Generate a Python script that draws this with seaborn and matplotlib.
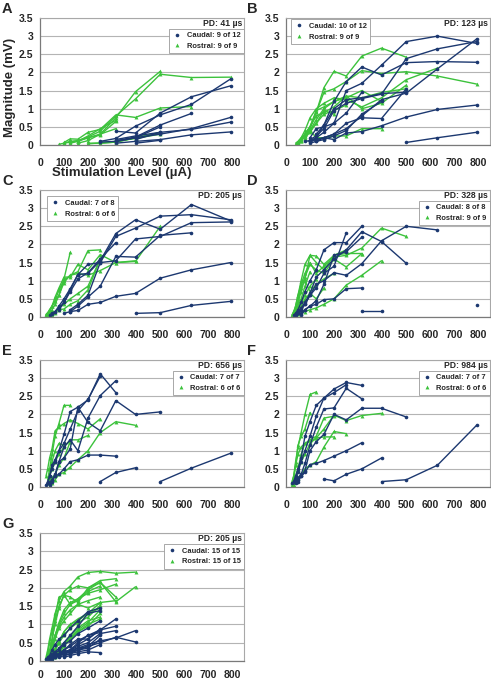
import matplotlib
matplotlib.use("Agg")
import matplotlib.pyplot as plt
from matplotlib.lines import Line2D
import seaborn as sns
import pandas as pd

# ---------------- data ----------------
STIM = [25, 32, 40, 50, 63, 79, 100, 126, 158, 200, 251, 316, 398, 501, 631, 794]
X_TICKS = [0, 100, 200, 300, 400, 500, 600, 700, 800]
Y_TICKS = [0, 0.5, 1, 1.5, 2, 2.5, 3, 3.5]

PANELS = ["A", "B", "C", "D", "E", "F", "G"]
PD_TEXT = {"A": "PD: 41 µs", "B": "PD: 123 µs", "C": "PD: 205 µs", "D": "PD: 328 µs",
           "E": "PD: 656 µs", "F": "PD: 984 µs", "G": "PD: 205 µs"}
CAUDAL_LABEL = {"A": "Caudal: 9 of 12", "B": "Caudal: 10 of 12", "C": "Caudal: 7 of 8",
                "D": "Caudal: 8 of 8", "E": "Caudal: 7 of 7", "F": "Caudal: 7 of 7",
                "G": "Caudal: 15 of 15"}
ROSTRAL_LABEL = {"A": "Rostral: 9 of 9", "B": "Rostral: 9 of 9", "C": "Rostral: 6 of 6",
                 "D": "Rostral: 9 of 9", "E": "Rostral: 6 of 6", "F": "Rostral: 6 of 6",
                 "G": "Rostral: 15 of 15"}

# each trace: (first stimulation level, magnitudes at consecutive levels)
A_CAUDAL = [
    (251, [0.1, 0.18, 0.52, 0.83, 1.12, 1.82]),
    (316, [0.38, 0.33, 0.88, 1.33, 1.63]),
    (316, [0.12, 0.22, 0.55, 0.87]),
    (316, [0.1, 0.2, 0.3, 0.45, 0.76]),
    (398, [0.15, 0.35, 0.43, 0.63]),
    (316, [0.05, 0.1, 0.15, 0.28, 0.36]),
    (251, [0.08, 0.1, 0.2, 0.5]),
    (316, [0.15, 0.25, 0.35]),
    (398, [0.05, 0.13]),
]
A_ROSTRAL = [
    (79, [0.02, 0.05, 0.08, 0.12, 0.2, 0.3, 0.75, 1.47, 2.03]),
    (100, [0.05, 0.1, 0.12, 0.22, 0.38, 0.8, 1.27, 1.95, 1.86, 1.87]),
    (100, [0.07, 0.17, 0.16, 0.35, 0.43, 0.83, 0.76, 1.02, 1.06]),
    (126, [0.05, 0.1, 0.25, 0.45, 0.68]),
    (158, [0.1, 0.2, 0.28, 0.65]),
    (200, [0.05, 0.05, 0.08, 0.2, 0.35]),
    (200, [0.03, 0.06, 0.1, 0.18, 0.3]),
    (251, [0.05, 0.08, 0.2, 0.32]),
    (158, [0.05, 0.12, 0.3, 0.45]),
]
B_CAUDAL = [
    (100, [0.1, 0.2, 0.35, 0.6, 1.5, 1.7, 2.2, 2.85, 3.0, 2.8]),
    (126, [0.3, 0.55, 1.2, 1.75, 2.15, 1.93, 2.27, 2.3, 2.28]),
    (100, [0.15, 0.25, 0.45, 0.95, 1.15, 1.28, 1.4, 2.38, 2.65, 2.85]),
    (100, [0.1, 0.15, 0.2, 0.3, 0.45, 0.8, 1.25, 1.43, 2.1, 2.92]),
    (79, [0.1, 0.12, 0.15, 0.2, 0.15, 0.33, 0.37, 0.53, 0.77, 0.98, 1.1]),
    (501, [0.07, 0.2, 0.35]),
    (100, [0.2, 0.45, 0.5, 0.6, 0.88, 1.45]),
    (126, [0.1, 0.2, 0.3, 0.6, 0.75, 0.73, 1.55]),
    (100, [0.12, 0.2, 0.55, 1.0, 1.25, 1.3, 1.42, 1.45]),
    (100, [0.05, 0.1, 0.15, 0.25, 0.4, 0.85, 1.2]),
]
B_ROSTRAL = [
    (50, [0.05, 0.15, 0.3, 0.5, 0.9, 1.58, 2.03, 1.9, 2.45, 2.67, 2.42]),
    (63, [0.1, 0.25, 0.45, 0.9, 1.45, 1.55, 1.75, 2.05, 1.97, 2.02, 1.9, 1.68]),
    (50, [0.05, 0.2, 0.4, 0.75, 1.0, 1.15, 1.3, 1.25, 1.05, 1.3, 1.8, 2.12]),
    (63, [0.1, 0.3, 0.5, 0.8, 0.9, 1.05, 1.35, 1.0, 1.15, 1.65]),
    (40, [0.05, 0.1, 0.2, 0.3, 0.4, 0.2, 0.2, 0.25, 0.25, 0.45, 0.45]),
    (79, [0.3, 0.5, 0.95, 1.05, 1.2, 1.3, 1.5, 1.2]),
    (63, [0.15, 0.2, 0.35, 0.6, 0.85, 0.95, 1.1]),
    (79, [0.2, 0.4, 0.6, 0.95, 0.85]),
    (50, [0.08, 0.15, 0.25, 0.4, 0.7, 1.0, 1.2, 1.35, 1.3, 1.45, 1.55]),
]
C_CAUDAL = [
    (40, [0.05, 0.1, 0.15, 0.3, 0.5, 0.78, 1.17, 1.2, 1.55, 2.3, 2.68, 2.42, 3.1, 2.65]),
    (50, [0.08, 0.15, 0.25, 0.4, 0.75, 1.17, 1.45, 1.5, 2.22, 2.45, 2.78, 2.82, 2.68]),
    (79, [0.2, 0.4, 0.7, 1.05, 1.22, 1.6, 2.05]),
    (126, [0.2, 0.35, 0.6, 1.5, 1.55, 2.15, 2.22, 2.6, 2.62]),
    (126, [0.15, 0.3, 0.55, 0.85, 1.67, 1.65, 2.25, 2.32]),
    (100, [0.1, 0.15, 0.18, 0.35, 0.4, 0.57, 0.65, 1.07, 1.3, 1.5]),
    (398, [0.1, 0.12, 0.32, 0.43]),
]
C_ROSTRAL = [
    (25, [0.07, 0.12, 0.2, 0.3, 0.45, 0.6, 1.05, 1.78]),
    (25, [0.05, 0.1, 0.2, 0.3, 0.45, 0.75, 1.0, 1.15, 1.25, 1.83, 1.85]),
    (32, [0.05, 0.15, 0.3, 0.55, 0.8, 1.1, 1.1, 1.45, 1.3, 1.72, 1.5, 1.53, 2.5]),
    (40, [0.1, 0.2, 0.35, 0.6, 0.95, 1.15, 1.2, 1.15, 1.28, 1.5, 1.55]),
    (40, [0.05, 0.1, 0.15, 0.25, 0.35, 0.5, 0.65, 0.85, 1.6]),
    (50, [0.05, 0.12, 0.2, 0.22, 0.35, 0.45, 0.75, 1.6]),
]
D_CAUDAL = [
    (32, [0.05, 0.1, 0.2, 0.4, 0.7, 1.0, 1.3, 1.85, 2.05, 2.05, 2.5]),
    (40, [0.05, 0.1, 0.2, 0.35, 0.6, 0.9, 1.0, 1.22, 1.15, 1.47, 2.1, 2.5, 2.4]),
    (50, [0.1, 0.25, 0.4, 0.65, 1.1, 1.3, 1.6, 1.85, 2.35, 2.08, 1.48]),
    (50, [0.1, 0.2, 0.35, 0.6, 0.8, 1.2, 1.4, 2.32]),
    (63, [0.05, 0.2, 0.3, 0.45, 0.9, 1.7, 1.8, 2.2]),
    (63, [0.1, 0.2, 0.3, 0.35, 0.48, 0.5, 0.78, 0.8]),
    (316, [0.17, 0.17]),
    (794, [0.32]),
]
D_ROSTRAL = [
    (25, [0.05, 0.15, 0.3, 0.6, 0.9, 1.2, 1.5, 1.2, 1.4, 1.65, 1.7, 1.9, 2.45, 2.22]),
    (40, [0.05, 0.08, 0.1, 0.15, 0.2, 0.25, 0.35, 0.5, 0.88, 1.15, 1.55]),
    (32, [0.1, 0.3, 0.6, 1.0, 1.45, 1.7, 1.68, 1.45, 1.7, 1.75, 1.75]),
    (40, [0.2, 0.4, 0.7, 1.1, 1.45, 1.3, 1.2, 1.6, 1.38, 1.75]),
    (32, [0.05, 0.2, 0.4, 0.9, 1.05, 1.7, 1.5, 1.3, 1.7, 1.85]),
    (40, [0.1, 0.3, 0.5, 0.85, 1.25]),
    (25, [0.05, 0.15, 0.25, 0.5, 0.8, 1.0, 0.7, 0.9, 1.05, 1.2]),
    (40, [0.05, 0.15, 0.3, 0.5, 0.65, 0.5, 0.8]),
    (50, [0.2, 0.4, 0.6, 0.85, 1.05]),
]
E_CAUDAL = [
    (25, [0.05, 0.15, 0.3, 0.5, 0.7, 1.0, 1.45, 2.08, 2.2, 2.4, 3.12, 2.6]),
    (32, [0.1, 0.3, 0.6, 0.75, 1.0, 1.2, 1.6, 2.1, 2.42, 3.05]),
    (40, [0.1, 0.2, 0.35, 0.7, 0.8, 1.05, 2.2, 1.78, 1.55, 2.38, 2.0, 2.07]),
    (40, [0.05, 0.2, 0.3, 0.35, 0.5, 0.7, 0.75, 0.88, 0.88, 0.85]),
    (251, [0.15, 0.4, 0.53]),
    (501, [0.15, 0.52, 0.93]),
    (50, [0.15, 0.3, 0.7, 1.1, 1.3, 1.0, 1.9, 2.52, 2.93]),
]
E_ROSTRAL = [
    (32, [0.2, 0.5, 0.9, 1.4, 1.75, 2.25, 2.25]),
    (25, [0.3, 0.5, 0.8, 1.05, 1.55, 1.65, 1.75, 1.85, 1.75, 1.6, 1.88]),
    (40, [0.05, 0.1, 0.2, 0.35, 0.4, 0.55, 0.75, 1.0, 1.5, 1.8, 1.7]),
    (32, [0.1, 0.3, 0.5, 0.7, 0.9, 1.1, 1.3, 1.3, 1.42]),
    (40, [0.3, 0.7, 1.0, 1.2, 1.15, 1.25]),
    (32, [0.1, 0.2, 0.25, 0.35, 0.6, 0.8, 1.25]),
]
F_CAUDAL = [
    (25, [0.1, 0.15, 0.3, 0.5, 0.8, 1.4, 1.8, 2.25, 2.45, 2.7, 2.88, 2.8]),
    (32, [0.15, 0.25, 0.4, 0.7, 1.0, 1.4, 1.95, 2.45, 2.6, 2.82]),
    (40, [0.2, 0.25, 0.35, 0.65, 1.15, 1.65, 2.15, 2.18, 2.72, 2.43]),
    (40, [0.1, 0.2, 0.3, 0.45, 1.0, 1.25, 1.45, 2.0, 1.85, 2.17, 2.17, 1.93]),
    (50, [0.15, 0.3, 0.4, 0.62, 0.65, 0.73, 0.85, 1.0, 1.22]),
    (158, [0.22, 0.17, 0.35, 0.5, 0.8]),
    (398, [0.15, 0.2, 0.6, 1.7]),
]
F_ROSTRAL = [
    (25, [0.1, 0.3, 0.7, 1.1, 1.5, 2.0, 2.55, 2.62]),
    (25, [0.05, 0.15, 0.3, 0.5, 0.7, 0.9, 1.2, 1.35, 1.6, 1.98, 1.83, 1.97, 2.03]),
    (32, [0.2, 0.6, 1.15, 1.4, 1.6, 2.05]),
    (32, [0.05, 0.15, 0.25, 0.35, 0.5, 0.6, 0.7, 1.1, 1.53, 1.47]),
    (40, [0.2, 0.5, 0.9, 1.2, 1.3, 1.4, 1.9, 1.95]),
    (25, [0.15, 0.3, 0.6, 0.9, 1.1, 1.2, 1.25, 1.35, 1.38, 1.38]),
]
G_CAUDAL = [
    (25, [0.05, 0.1, 0.15, 0.3, 0.45, 0.6, 0.7, 0.9, 1.1, 1.35, 1.45]),
    (32, [0.05, 0.12, 0.2, 0.25, 0.35, 0.5, 0.7, 0.95, 1.3, 1.38]),
    (40, [0.1, 0.15, 0.2, 0.3, 0.45, 0.55, 0.75, 0.9, 1.1]),
    (40, [0.05, 0.1, 0.15, 0.2, 0.3, 0.4, 0.55, 0.7, 0.85, 1.15]),
    (50, [0.1, 0.15, 0.2, 0.25, 0.3, 0.45, 0.6, 0.88]),
    (50, [0.15, 0.2, 0.15, 0.2, 0.3, 0.4, 0.5, 0.75, 0.83]),
    (63, [0.1, 0.15, 0.2, 0.25, 0.35, 0.45, 0.55, 0.63, 0.83]),
    (63, [0.15, 0.15, 0.2, 0.25, 0.3, 0.4, 0.5, 0.65, 0.52]),
    (79, [0.1, 0.15, 0.2, 0.3, 0.4, 0.7]),
    (79, [0.2, 0.2, 0.25, 0.3, 0.35, 0.6]),
    (100, [0.15, 0.2, 0.25, 0.3, 0.45]),
    (100, [0.1, 0.15, 0.2, 0.25, 0.23]),
    (50, [0.05, 0.1, 0.15, 0.2, 0.3, 0.5, 0.7, 0.78]),
    (63, [0.1, 0.2, 0.3, 0.45, 0.6, 0.6, 0.85, 0.95]),
    (40, [0.05, 0.1, 0.15, 0.2, 0.25, 0.3, 0.35, 0.4]),
]
G_ROSTRAL = [
    (25, [0.1, 0.3, 0.6, 0.9, 1.3, 1.65, 1.9, 2.05, 2.3, 2.42, 2.45, 2.4, 2.43]),
    (25, [0.05, 0.2, 0.5, 0.8, 1.1, 1.5, 1.8, 1.95, 2.05, 2.0, 2.15, 1.62, 2.03]),
    (32, [0.1, 0.3, 0.6, 1.0, 1.45, 1.8, 1.75, 1.6, 2.0, 2.2, 2.25]),
    (32, [0.05, 0.15, 0.4, 0.7, 1.0, 1.3, 1.55, 1.7, 1.95, 2.15, 1.75]),
    (40, [0.2, 0.5, 1.2, 1.75, 1.8, 1.55, 1.65, 1.9, 2.05]),
    (25, [0.05, 0.1, 0.25, 0.45, 0.7, 0.95, 1.2, 1.4, 1.55, 1.65, 1.75]),
    (40, [0.1, 0.3, 0.6, 0.9, 1.1, 1.3, 1.55, 1.45, 1.6, 1.65]),
    (32, [0.05, 0.1, 0.2, 0.35, 0.55, 0.8, 1.0, 1.1, 1.3, 1.6]),
    (40, [0.05, 0.15, 0.3, 0.5, 0.7, 0.9, 1.05, 1.2, 1.52]),
    (50, [0.1, 0.3, 0.5, 0.8, 1.0, 1.15, 1.3, 1.45]),
    (50, [0.05, 0.15, 0.3, 0.45, 0.65, 0.85, 1.05, 1.4]),
    (63, [0.1, 0.25, 0.45, 0.6, 0.8, 0.95, 1.3]),
    (63, [0.15, 0.3, 0.5, 0.7, 0.9, 1.1, 1.2]),
    (79, [0.2, 0.4, 0.6, 0.8, 1.0, 1.15]),
    (40, [0.1, 0.35, 0.7, 1.05, 1.4, 1.6, 1.7, 1.85, 1.95, 2.1]),
]

DATA = {
    "A": (A_CAUDAL, A_ROSTRAL), "B": (B_CAUDAL, B_ROSTRAL), "C": (C_CAUDAL, C_ROSTRAL),
    "D": (D_CAUDAL, D_ROSTRAL), "E": (E_CAUDAL, E_ROSTRAL), "F": (F_CAUDAL, F_ROSTRAL),
    "G": (G_CAUDAL, G_ROSTRAL),
}

# ---------------- build long table ----------------
rows = []
for p in PANELS:
    caud, rost = DATA[p]
    for grp, traces in (("Caudal", caud), ("Rostral", rost)):
        for k, (start, vals) in enumerate(traces):
            i0 = STIM.index(start)
            for x, y in zip(STIM[i0:i0 + len(vals)], vals):
                rows.append(dict(panel=p, group=grp, trace=f"{grp}{k}", x=x, y=y))
df = pd.DataFrame(rows)

# ---------------- style ----------------
sns.set_style("white")
plt.rcParams["font.family"] = ["Liberation Sans", "DejaVu Sans"]
plt.rcParams["font.weight"] = "bold"

CAUDAL_COLOR = "#1C3870"
ROSTRAL_COLOR = "#3CC23C"
GRID_COLOR = "#B4B4B4"

W, H = 491, 682
fig = plt.figure(figsize=(W / 100, H / 100), dpi=100)

COLS = {0: (40, 244), 1: (286, 490)}
ROWS = [(18, 145), (190, 317), (360, 487), (533, 661)]
POS = {"A": (0, 0), "B": (0, 1), "C": (1, 0), "D": (1, 1), "E": (2, 0), "F": (2, 1), "G": (3, 0)}
LEGEND_LEFT = {"B": (0.025, 0.99), "C": (0.035, 0.95)}

for p in PANELS:
    r, c = POS[p]
    l, rr = COLS[c]
    t, b = ROWS[r]
    ax = fig.add_axes([l / W, 1 - b / H, (rr - l) / W, (b - t) / H])
    sub = df[df.panel == p]
    sns.lineplot(data=sub[sub.group == "Rostral"], x="x", y="y", units="trace",
                 estimator=None, sort=False, color=ROSTRAL_COLOR, marker="^",
                 markersize=2.8, markeredgewidth=0, linewidth=1.0, ax=ax, legend=False)
    sns.lineplot(data=sub[sub.group == "Caudal"], x="x", y="y", units="trace",
                 estimator=None, sort=False, color=CAUDAL_COLOR, marker="o",
                 markersize=2.6, markeredgewidth=0, linewidth=1.0, ax=ax, legend=False)
    ax.set_xlim(0, 850)
    ax.set_ylim(0, 3.5)
    ax.set_xticks(X_TICKS)
    ax.set_yticks(Y_TICKS)
    ax.set_yticklabels([f"{v:g}" for v in Y_TICKS])
    ax.set_xlabel("")
    ax.set_ylabel("")
    ax.yaxis.grid(True, color=GRID_COLOR, linewidth=0.8)
    ax.xaxis.grid(False)
    ax.set_axisbelow(True)
    ax.tick_params(axis="both", labelsize=7.5, length=3, width=0.8, color="#707070",
                   direction="out")
    ax.tick_params(axis="x", pad=(3.2 if p == "G" else 6))
    ax.tick_params(axis="y", pad=2)
    for lab in ax.get_xticklabels() + ax.get_yticklabels():
        lab.set_fontweight("bold")
    for s in ("left", "bottom"):
        ax.spines[s].set_color("#7A7A7A")
        ax.spines[s].set_linewidth(0.9)
    for s in ("top", "right"):
        ax.spines[s].set_color("#A8A8A8")
        ax.spines[s].set_linewidth(0.8)

    ax.text(0.99, 0.955, PD_TEXT[p], transform=ax.transAxes, ha="right", va="center",
            fontsize=6.2, fontweight="bold")

    handles = [
        Line2D([], [], color=CAUDAL_COLOR, marker="o", linestyle="none", markersize=2.6,
               markeredgewidth=0),
        Line2D([], [], color=ROSTRAL_COLOR, marker="^", linestyle="none", markersize=2.8,
               markeredgewidth=0),
    ]
    labels = [CAUDAL_LABEL[p], ROSTRAL_LABEL[p]]
    if p in LEGEND_LEFT:
        loc, anchor = "upper left", LEGEND_LEFT[p]
    else:
        loc, anchor = "upper right", (1.0, 0.915)
    leg = ax.legend(handles, labels, loc=loc, bbox_to_anchor=anchor,
                    frameon=True, fancybox=False, framealpha=1, edgecolor="#9A9A9A",
                    borderpad=0.45, labelspacing=0.45, handletextpad=0.7,
                    handlelength=1.2, borderaxespad=0,
                    prop={"weight": "bold", "size": 5.4})
    leg.get_frame().set_linewidth(0.6)

    fig.text((2 if c == 0 else 247) / W, 1 - (t - 16) / H, p, ha="left", va="top",
             fontsize=10.5, fontweight="bold")

fig.text(10 / W, 1 - 87 / H, "Magnitude (mV)", rotation=90, ha="center", va="center",
         fontsize=9.5, fontweight="bold")
fig.text(122 / W, 1 - 173 / H, "Stimulation Level (µA)", ha="center", va="center",
         fontsize=9.5, fontweight="bold")

fig.savefig("out.png", dpi=100)
